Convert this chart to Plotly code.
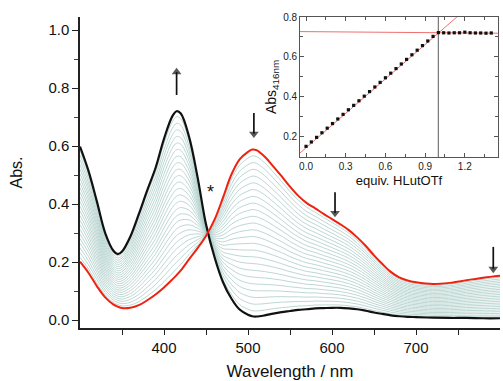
import plotly.graph_objects as go

# ---------------- data ----------------
wavelength = [300, 310, 320, 330, 340, 345, 350, 360, 370, 380, 390, 400, 410, 415, 420,
              430, 440, 450, 460, 470, 480, 490, 500, 505, 510, 520, 530, 540, 550, 560,
              570, 580, 590, 600, 610, 620, 630, 640, 650, 660, 670, 680, 690, 700, 720,
              740, 760, 780, 800]
abs_initial = [0.201, 0.163, 0.117, 0.078, 0.053, 0.046, 0.041, 0.042, 0.051, 0.068, 0.088,
               0.112, 0.140, 0.155, 0.171, 0.210, 0.248, 0.290, 0.345, 0.420, 0.500, 0.554,
               0.580, 0.588, 0.586, 0.563, 0.530, 0.496, 0.460, 0.428, 0.403, 0.385, 0.366,
               0.348, 0.330, 0.310, 0.285, 0.256, 0.223, 0.193, 0.166, 0.147, 0.136, 0.130,
               0.124, 0.128, 0.137, 0.146, 0.153]
abs_final = [0.598, 0.515, 0.410, 0.300, 0.238, 0.227, 0.236, 0.288, 0.365, 0.447, 0.525,
             0.625, 0.703, 0.720, 0.712, 0.630, 0.492, 0.330, 0.218, 0.132, 0.075, 0.036,
             0.018, 0.013, 0.012, 0.016, 0.022, 0.027, 0.031, 0.035, 0.037, 0.040, 0.041,
             0.042, 0.042, 0.040, 0.037, 0.032, 0.026, 0.021, 0.016, 0.013, 0.011, 0.010,
             0.008, 0.007, 0.007, 0.006, 0.006]

# inset: titration at 416 nm
equiv = [0.00, 0.04, 0.08, 0.12, 0.16, 0.20, 0.24, 0.28, 0.32, 0.36, 0.40, 0.44, 0.48,
         0.52, 0.56, 0.60, 0.64, 0.68, 0.72, 0.76, 0.80, 0.84, 0.88, 0.92, 0.96, 1.00,
         1.04, 1.08, 1.12, 1.16, 1.20, 1.24, 1.28, 1.32, 1.36, 1.40]
abs416 = [0.153, 0.175, 0.198, 0.221, 0.244, 0.267, 0.290, 0.313, 0.336, 0.358, 0.381,
          0.404, 0.427, 0.450, 0.473, 0.496, 0.519, 0.542, 0.565, 0.588, 0.611, 0.634,
          0.657, 0.680, 0.703, 0.722, 0.721, 0.720, 0.721, 0.721, 0.724, 0.721, 0.720,
          0.720, 0.719, 0.720]
fit_linear_x = [-0.045, 1.14]
fit_linear_y = [0.120, 0.800]
fit_plateau_x = [-0.045, 1.45]
fit_plateau_y = [0.727, 0.719]
endpoint_equiv = 1.0

x_ticks = [400, 500, 600, 700]
y_ticks = [0.0, 0.2, 0.4, 0.6, 0.8, 1.0]

# arrows marking the direction of change: wavelength, tail and head (absorbance units)
arrow_wl = [415, 507, 603.6, 792]
arrow_tail = [0.776, 0.714, 0.441, 0.252]
arrow_head = [0.855, 0.642, 0.369, 0.176]
arrow_symbol = ["triangle-up", "triangle-down", "triangle-down", "triangle-down"]

# ---------------- figure ----------------
FONT = "Liberation Sans, Arial, sans-serif"
fig = go.Figure()

# intermediate spectra: fraction of conversion taken from the 416 nm titration data
a0 = abs416[0]
a_end = abs416[25]
for a in abs416[1:25]:
    f = (a - a0) / (a_end - a0)
    spec = [r + f * (b - r) for r, b in zip(abs_initial, abs_final)]
    fig.add_trace(go.Scatter(x=wavelength, y=spec, mode="lines",
                             line=dict(color="rgb(172,205,200)", width=0.8, shape="spline"),
                             hoverinfo="skip"))

fig.add_trace(go.Scatter(x=wavelength, y=abs_final, mode="lines",
                         line=dict(color="#111111", width=2.2, shape="spline")))
fig.add_trace(go.Scatter(x=wavelength, y=abs_initial, mode="lines",
                         line=dict(color="#ee2211", width=2, shape="spline")))

# arrows
for wl, t, h, sym in zip(arrow_wl, arrow_tail, arrow_head, arrow_symbol):
    fig.add_trace(go.Scatter(x=[wl, wl], y=[t, h], mode="lines+markers",
                             line=dict(color="#111111", width=1.7),
                             marker=dict(symbol=["circle", sym], size=[0, 8.5],
                                         color="#111111", line=dict(width=0)),
                             hoverinfo="skip"))

# inset traces
fig.add_trace(go.Scatter(x=fit_plateau_x, y=fit_plateau_y, mode="lines", xaxis="x2", yaxis="y2",
                         line=dict(color="#f07070", width=1)))
fig.add_trace(go.Scatter(x=fit_linear_x, y=fit_linear_y, mode="lines", xaxis="x2", yaxis="y2",
                         line=dict(color="#f07070", width=1)))
fig.add_trace(go.Scatter(x=[endpoint_equiv, endpoint_equiv], y=[0.1, 0.8], mode="lines",
                         xaxis="x2", yaxis="y2", line=dict(color="#777777", width=1.2)))
fig.add_trace(go.Scatter(x=equiv, y=abs416, mode="markers", xaxis="x2", yaxis="y2",
                         marker=dict(symbol="square", size=3.2, color="#111111")))

axis_common = dict(showgrid=False, zeroline=False, showline=True, linecolor="#222222",
                   tickcolor="#222222", automargin=False,
                   tickfont=dict(family=FONT, size=15, color="#111111"))

fig.update_layout(
    width=503, height=381, autosize=False,
    margin=dict(l=80, r=3, t=17, b=53, autoexpand=False),
    paper_bgcolor="white", plot_bgcolor="white",
    showlegend=False,
    font=dict(family=FONT, color="#111111"),
    xaxis=dict(**axis_common, range=[300, 800], tickvals=x_ticks, ticks="outside",
               ticklen=5, linewidth=1.5,
               minor=dict(tickvals=[350, 450, 550, 650, 750], ticks="outside", ticklen=5,
                          tickcolor="#222222"),
               title=dict(text="Wavelength / nm", font=dict(family=FONT, size=17), standoff=15)),
    yaxis=dict(**axis_common, range=[-0.0276, 1.045], tickvals=y_ticks, tickformat=".1f",
               ticks="outside", ticklen=6, linewidth=1.5,
               minor=dict(tickvals=[0.1, 0.3, 0.5, 0.7, 0.9], ticks="outside", ticklen=4,
                          tickcolor="#444444"),
               title=dict(text="Abs.", font=dict(family=FONT, size=16), standoff=22)),
    xaxis2=dict(domain=[0.524, 0.995], anchor="y2", range=[-0.045, 1.45], dtick=0.3, tick0=0,
                tickformat=".1f", showgrid=False, zeroline=False, showline=True, mirror="ticks",
                automargin=False,
                linecolor="#555555", linewidth=1, ticks="inside", ticklen=4, tickcolor="#555555",
                minor=dict(dtick=0.15, ticks="inside", ticklen=3, tickcolor="#555555"),
                tickfont=dict(family=FONT, size=10, color="#222222"),
                title=dict(text="equiv. HLutOTf", font=dict(family=FONT, size=13), standoff=4)),
    yaxis2=dict(domain=[0.55, 1.0], anchor="x2", range=[0.1, 0.8], dtick=0.2, tick0=0,
                tickformat=".1f", showgrid=False, zeroline=False, showline=True, mirror="ticks",
                automargin=False,
                linecolor="#555555", linewidth=1, ticks="inside", ticklen=4, tickcolor="#555555",
                minor=dict(dtick=0.1, ticks="inside", ticklen=3, tickcolor="#555555"),
                tickfont=dict(family=FONT, size=10, color="#222222"),
                title=dict(text="Abs<sub>416nm</sub>", font=dict(family=FONT, size=14), standoff=3)),
)

fig.add_annotation(x=455.6, y=0.44, xref="x", yref="y", text="*", showarrow=False,
                   font=dict(family=FONT, size=18, color="#111111"))

fig.write_html("out.html", config={"displayModeBar": False},
               post_script="document.body.style.margin='0';document.body.style.overflow='hidden';")
